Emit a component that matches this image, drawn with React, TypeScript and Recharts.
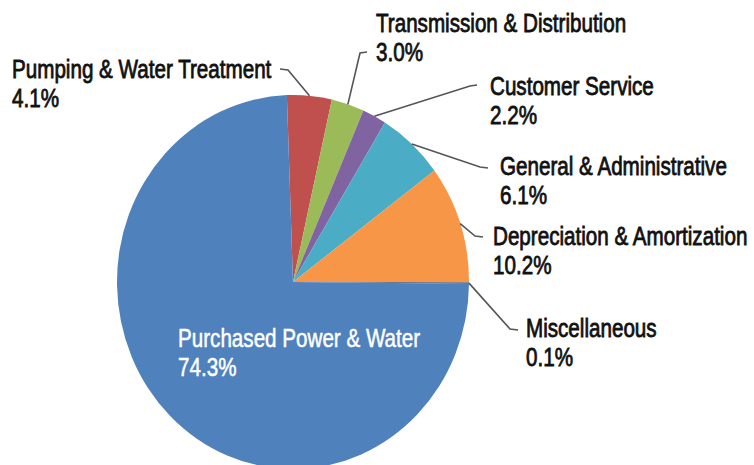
import { PieChart, Pie, Cell } from "recharts";

// slices clockwise from 12 o'clock
const names = [
  "Pumping & Water Treatment",
  "Transmission & Distribution",
  "Customer Service",
  "General & Administrative",
  "Depreciation & Amortization",
  "Miscellaneous",
  "Purchased Power & Water",
];
const shares = [4.1, 3.0, 2.2, 6.1, 10.2, 0.1, 74.3];
const colors = ["#C0504D", "#9BBB59", "#8064A2", "#4BACC6", "#F79646", "#2C4D75", "#4F81BD"];

const data = names.map((name, i) => ({ name, value: shares[i] }));

// label layout: text start + baseline, leader line end and elbow
const labelLayout = [
  { x: 12, y: 78, end: [280, 69], elbow: [288, 70] },
  { x: 376, y: 32, end: [367, 52], elbow: [360, 53] },
  { x: 490, y: 95, end: [477, 85], elbow: [470, 86] },
  { x: 500, y: 175, end: [488, 168], elbow: [480, 167] },
  { x: 493, y: 245, end: [483, 237], elbow: [475, 236] },
  { x: 526, y: 337, end: [518, 330], elbow: [510, 329] },
  { x: 178, y: 347, end: null, elbow: null },
];

const RX = 176;
const RY = 187;
const STRETCH = RY / RX;
// no condensed face installed, so squeeze a regular one
const FONT = "'Liberation Sans', Arial, sans-serif";
const SQUEEZE = 0.825;

const renderLabel = (props: any) => {
  const { cx, cy, midAngle, outerRadius, index } = props;
  const lay = labelLayout[index];
  const rad = (midAngle * Math.PI) / 180;
  const ex = cx + outerRadius * Math.cos(rad);
  const ey = cy - outerRadius * STRETCH * Math.sin(rad);
  const inside = lay.end === null;
  const fill = inside ? "#ffffff" : "#111111";
  return (
    <g key={`lbl-${index}`}>
      {!inside && (
        <polyline
          points={`${ex},${ey} ${lay.elbow![0]},${lay.elbow![1]} ${lay.end![0]},${lay.end![1]}`}
          fill="none"
          stroke="#555"
          strokeWidth={1.6}
        />
      )}
      <g transform={`translate(${lay.x},${lay.y}) scale(${SQUEEZE},1)`}>
        <text
          x={0}
          y={0}
          fill={fill}
          stroke={fill}
          strokeWidth={inside ? 0.5 : 0.8}
          fontFamily={FONT}
          fontSize={25}
        >
          <tspan x={0}>{names[index]}</tspan>
          <tspan x={0} dy={29}>{shares[index].toFixed(1)}%</tspan>
        </text>
      </g>
    </g>
  );
};

export default function App() {
  return (
    <div className="pie-wrap" style={{ position: "absolute", left: 0, top: 0, background: "#fff" }}>
      <style>{`
        .pie-wrap .recharts-pie-sector path {
          transform-origin: 293px 282px;
          transform: scaleY(${STRETCH});
        }
      `}</style>
      <PieChart width={754} height={465} margin={{ top: 0, right: 0, bottom: 0, left: 0 }}>
        <Pie
          data={data}
          dataKey="value"
          nameKey="name"
          cx={293}
          cy={282}
          outerRadius={RX}
          startAngle={92}
          endAngle={-268}
          stroke="none"
          label={renderLabel}
          labelLine={false}
          isAnimationActive={false}
        >
          {data.map((d, i) => (
            <Cell key={d.name} fill={colors[i]} />
          ))}
        </Pie>
      </PieChart>
    </div>
  );
}
